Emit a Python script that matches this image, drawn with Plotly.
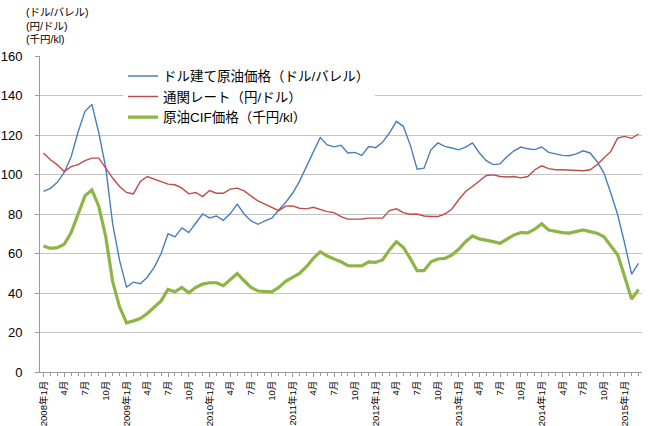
import plotly.graph_objects as go

# Categories: monthly, 2008-01 .. 2015-03
years = [2008, 2009, 2010, 2011, 2012, 2013, 2014, 2015]
months = []
for y in years:
    for m in range(1, 13):
        if y == 2015 and m > 3:
            break
        months.append(f"{y}年{m}月")

# ドル建て原油価格 (ドル/バレル)
usd_price = [
    91.5, 93.0, 96.0, 101.0, 109.0, 121.5, 132.0, 135.5, 121.0, 103.5, 75.0, 56.5,
    43.0, 45.5, 44.7, 48.0, 53.0, 60.0, 70.0, 68.4, 73.0, 70.6, 75.3, 80.0,
    78.0, 79.0, 76.8, 80.2, 85.0, 80.0, 76.5, 74.8, 76.5, 77.9, 82.0, 85.8,
    90.5, 96.5, 104.0, 111.7, 118.8, 115.0, 114.0, 114.8, 110.9, 111.2, 109.7, 114.2,
    113.6, 116.3, 121.0, 126.9, 124.4, 115.0, 102.7, 103.2, 112.5, 116.0, 114.2, 113.4,
    112.5, 113.9, 116.0, 110.9, 107.0, 105.0, 105.4, 109.1, 112.0, 113.9, 113.0, 112.6,
    113.9, 111.2, 110.4, 109.7, 109.5, 110.4, 112.0, 110.9, 106.6, 100.7, 90.5, 79.5,
    65.0, 49.5, 55.0,
]

# 通関レート (円/ドル)
fx_rate = [
    110.9, 107.5, 104.9, 101.5, 104.0, 105.0, 107.0, 108.3, 108.3, 103.2, 98.2, 93.9,
    90.9, 90.2, 96.5, 99.0, 97.7, 96.7, 95.1, 94.8, 93.1, 90.2, 90.9, 88.8,
    91.9, 90.5, 90.5, 92.6, 93.1, 91.7, 89.2, 86.6, 85.0, 83.4, 81.7, 84.0,
    84.1, 82.9, 82.6, 83.4, 82.1, 81.2, 80.7, 78.7, 77.4, 77.4, 77.5, 77.9,
    77.9, 77.9, 81.7, 82.6, 80.7, 79.9, 80.0, 79.0, 78.7, 78.7, 80.0, 82.4,
    87.2, 91.4, 93.9, 96.5, 99.5, 99.8, 99.0, 98.7, 99.0, 98.3, 99.0, 102.4,
    104.4, 103.0, 102.4, 102.4, 102.2, 102.0, 101.9, 102.4, 104.9, 108.3, 111.7, 118.5,
    119.3, 118.3, 120.5,
]

# 原油CIF価格 (千円/kl)
cif_price = [
    63.8, 62.6, 63.0, 64.7, 70.6, 80.4, 89.2, 92.2, 83.8, 68.5, 45.7, 33.0,
    24.9, 25.9, 27.1, 29.6, 32.7, 36.0, 41.8, 40.6, 42.8, 40.1, 42.8, 44.5,
    45.2, 45.2, 43.7, 46.9, 49.9, 46.2, 42.8, 41.0, 40.6, 40.6, 42.8, 45.9,
    47.9, 49.9, 53.3, 57.5, 60.9, 58.7, 57.2, 55.8, 53.8, 53.7, 53.7, 55.8,
    55.5, 56.7, 61.8, 66.0, 63.1, 57.5, 51.3, 51.3, 55.8, 57.2, 57.5, 59.2,
    62.1, 66.0, 68.9, 67.4, 66.9, 66.0, 65.2, 67.2, 69.4, 70.6, 70.4, 72.3,
    75.0, 71.9, 71.1, 70.6, 70.3, 70.9, 71.9, 71.1, 70.3, 68.5, 63.8, 59.2,
    48.2, 36.9, 41.8,
]

series_names = ["ドル建て原油価格（ドル/バレル）", "通関レート（円/ドル）", "原油CIF価格（千円/kl）"]
colors = ["#4a7ebb", "#be4b48", "#8db544"]
widths = [1.4, 1.4, 3.2]

y_ticks = [0, 20, 40, 60, 80, 100, 120, 140, 160]
tick_cats = months[::3]
tick_labels = [m if m.endswith("年1月") else m.split("年")[1] for m in tick_cats]
unit_label = "(ドル/バレル)<br>(円/ドル)<br>(千円/kl)"

FONT = "Liberation Sans, Arial, Noto Sans CJK JP, sans-serif"

fig = go.Figure()
for vals, name, col, w in zip([usd_price, fx_rate, cif_price], series_names, colors, widths):
    fig.add_trace(go.Scatter(x=months, y=vals, name=name, mode="lines",
                             line=dict(color=col, width=w)))

fig.update_layout(
    width=650, height=426,
    margin=dict(l=40, r=8, t=56, b=54),
    paper_bgcolor="white", plot_bgcolor="white",
    font=dict(family=FONT, color="#000000"),
    showlegend=True,
    legend=dict(x=0.138, y=0.985, xanchor="left", yanchor="top",
                bgcolor="white", borderwidth=0, itemwidth=30,
                tracegroupgap=0,
                font=dict(size=13.5, family=FONT, color="#000")),
    annotations=[dict(text=unit_label, x=0.0, xshift=-16, y=1.165, xref="paper", yref="paper",
                      xanchor="left", yanchor="top", align="left", showarrow=False,
                      font=dict(size=10.5, family=FONT, color="#000"))],
)

fig.update_xaxes(
    type="category", range=[-0.5, len(months) - 0.5],
    tickmode="array", tickvals=tick_cats, ticktext=tick_labels,
    tickangle=-90, tickfont=dict(size=9.5, family=FONT, color="#000"),
    ticks="outside", ticklen=4, tickcolor="#9a9a9a",
    minor=dict(ticks="outside", ticklen=3, tickcolor="#9a9a9a", dtick=1),
    showline=True, linecolor="#9a9a9a", linewidth=1,
    showgrid=False, zeroline=False, automargin=False,
)
fig.update_yaxes(
    range=[0, 160], tickmode="array", tickvals=y_ticks,
    tickfont=dict(size=13, family=FONT, color="#000"),
    ticks="outside", ticklen=4, tickcolor="#9a9a9a",
    ticklabelstandoff=10,
    showline=True, linecolor="#9a9a9a", linewidth=1,
    showgrid=True, gridcolor="#c4c4c4", gridwidth=1, zeroline=False,
    automargin=False,
)

fig.write_html("out.html")
